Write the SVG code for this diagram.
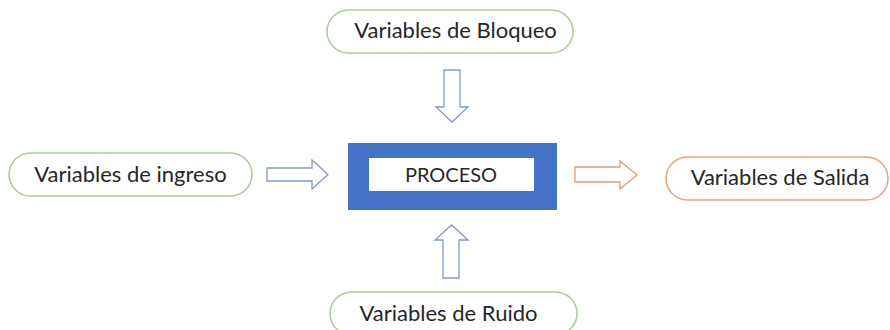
<svg xmlns="http://www.w3.org/2000/svg" width="890" height="330" viewBox="0 0 890 330">
<style>
.bg{fill:#ffffff}
.pill{fill:#ffffff;stroke-width:1.5}
.green{stroke:#a9cb95}
.orange{stroke:#eba27a}
.lbl{font-family:Lato,"Liberation Sans",sans-serif;font-size:22px;fill:#262626;text-anchor:middle}
.blk{fill:#ffffff;stroke-width:1.3;stroke-linejoin:miter}
.blue{stroke:#7f9bcc}
.oarr{stroke:#e99b72}
</style>
<rect class="bg" x="0" y="0" width="890" height="330"/>
<g id="connectors">
<path class="blk blue" d="M444,70 H460 V107 H468 L452,122 L436,107 H444 Z"/>
<path class="blk blue" d="M443,278 H459 V240 H468 L451.5,225 L435,240 H443 Z"/>
<path class="blk blue" d="M267,168 H312 V160 L328,174.5 L312,189 V181 H267 Z"/>
<path class="blk oarr" d="M575,167 H620 V161 L637,175 L620,189 V182 H575 Z"/>
</g>
<g id="bloqueo">
<rect class="pill green" x="327" y="10" width="246" height="43" rx="21.5"/>
<text class="lbl" x="455.5" y="38">Variables de Bloqueo</text>
</g>
<g id="ingreso">
<rect class="pill green" x="9" y="153" width="243" height="43" rx="21.5"/>
<text class="lbl" x="130.5" y="182">Variables de ingreso</text>
</g>
<g id="proceso">
<rect x="348" y="143" width="209" height="67" fill="#4472c4"/>
<rect x="369" y="158" width="165" height="33" fill="#ffffff"/>
<text class="lbl" x="451" y="182" style="font-size:20px">PROCESO</text>
</g>
<g id="salida">
<rect class="pill orange" x="666" y="157" width="222" height="43" rx="21.5"/>
<text class="lbl" x="780" y="185">Variables de Salida</text>
</g>
<g id="ruido">
<rect class="pill green" x="330" y="292" width="247" height="43" rx="21.5"/>
<text class="lbl" x="448.5" y="321">Variables de Ruido</text>
</g>
</svg>
